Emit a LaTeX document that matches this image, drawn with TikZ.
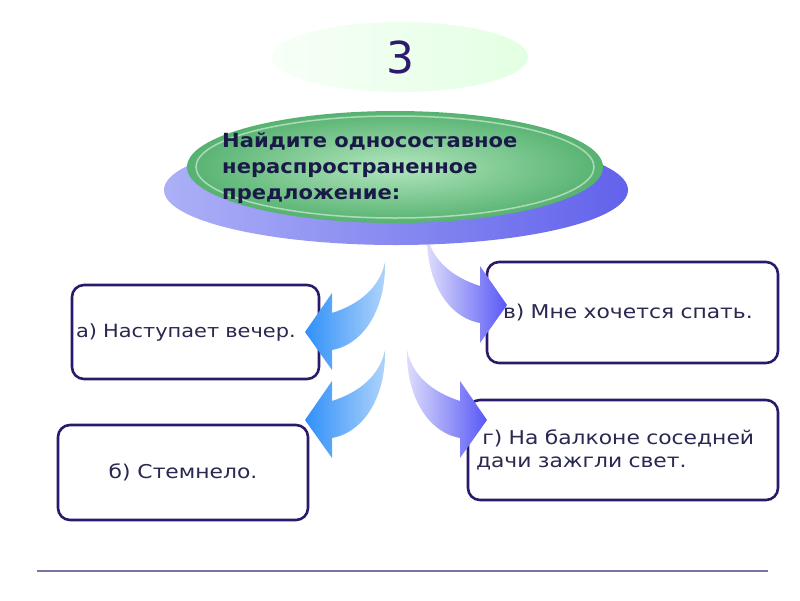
\documentclass[tikz,border=0pt]{standalone}
\usepackage{fontspec}
\setmainfont{DejaVu Sans}
\newfontfamily\boxfont[FakeStretch=1.15]{DejaVu Sans}
\newfontfamily\titlefont[FakeStretch=1.08]{DejaVu Sans}
\usepackage{xcolor}
\usepackage{tikz}
\usetikzlibrary{arrows.meta, positioning, shapes.geometric}
\definecolor{boxline}{RGB}{43,26,107}
\definecolor{textdark}{RGB}{40,40,80}
\definecolor{titlenavy}{RGB}{26,26,72}
\definecolor{digitpurple}{RGB}{46,26,110}
\definecolor{discleft}{RGB}{172,176,246}
\definecolor{discright}{RGB}{98,98,236}
\definecolor{greenedge}{RGB}{86,178,112}
\definecolor{greenlight}{RGB}{178,230,190}
\definecolor{arrowblue}{RGB}{48,144,250}
\definecolor{arrowbluelight}{RGB}{176,212,250}
\definecolor{arrowviolet}{RGB}{88,88,246}
\definecolor{arrowvioletlight}{RGB}{222,222,252}
\definecolor{rulegray}{RGB}{118,118,166}

\begin{document}
\begin{tikzpicture}[x=1pt, y=-1pt,
  answer/.style={draw=boxline, line width=2.6pt, rounded corners=12pt, fill=white,
                 font=\boxfont\fontsize{19}{23}\selectfont, text=textdark},
  disc/.style={ellipse, inner sep=0pt}]
  \useasboundingbox (0,0) rectangle (800,600);

  % answer boxes
  \node[answer, minimum width=247pt, minimum height=94pt, text width=239pt,
        align=left, inner xsep=4pt, font=\boxfont\fontsize{18.2}{23}\selectfont]
        (boxa) at (195.5,332) {а) Наступает вечер.};
  \node[answer, minimum width=291pt, minimum height=101pt, text width=259pt,
        align=left, inner xsep=16pt] (boxv) at (632.5,312.5) {в) Мне хочется спать.};
  \node[answer, minimum width=250pt, minimum height=95pt, align=center]
        (boxb) at (183,472.5) {б) Стемнело.};
  \node[answer, minimum width=310pt, minimum height=100pt, text width=294pt,
        align=left, inner xsep=8pt] (boxg) at (623,450)
        {\ г) На балконе соседней\\дачи зажгли свет.};

  % curved block arrows
  \foreach \ax/\ay/\sx/\cl/\cr in {385/262/1/arrowblue/arrowbluelight,
                                  385/350/1/arrowblue/arrowbluelight,
                                  427/235/-1/arrowvioletlight/arrowviolet,
                                  407/350/-1/arrowvioletlight/arrowviolet} {
    \begin{scope}[shift={(\ax,\ay)}, xscale=\sx]
      \shade[left color=\cl, right color=\cr]
        (0,0) .. controls (1,45) and (-20,82) .. (-53,88) -- (-53,108)
        -- (-80,70) -- (-53,31) -- (-53,51)
        .. controls (-25,42) and (-5,25) .. (0,0) -- cycle;
    \end{scope}
  }

  % title discs
  \node[disc, minimum width=464pt, minimum height=110pt,
        left color=discleft, right color=discright] (base) at (396,190) {};
  \node[disc, minimum width=416pt, minimum height=112pt,
        inner color=greenlight, outer color=greenedge] (task) at (395,167) {};
  \draw[white, opacity=0.5, line width=1.5pt] (task.center) ellipse (199pt and 51pt);
  \node[anchor=west, align=left, font=\titlefont\bfseries\fontsize{19.5}{26}\selectfont,
        text=titlenavy, inner sep=0pt] (tasktext) at (222,168)
        {Найдите односоставное\\нераспространенное\\предложение:};

  % number
  \node[disc, minimum width=256pt, minimum height=70pt,
        left color=green!3, right color=green!11!white,
        font=\fontsize{44}{44}\selectfont, text=digitpurple] (num) at (400,57) {3};

  % bottom rule
  \coordinate (ruleL) at (37,571);
  \coordinate (ruleR) at (768,571);
  \draw[rulegray, line width=1.8pt] (ruleL) -- (ruleR);
\end{tikzpicture}
\end{document}
